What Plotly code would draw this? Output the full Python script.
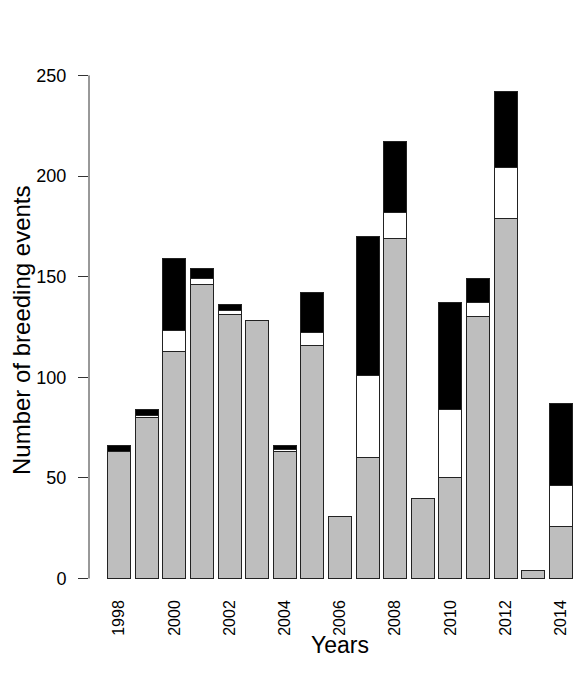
import plotly.graph_objects as go

years = list(range(1998, 2015))
gray_vals = [63, 80, 113, 146, 131, 128, 63, 116, 31, 60, 169, 40, 50, 130, 179, 4, 26]
white_vals = [0, 1, 10, 3, 2, 0, 1, 6, 0, 41, 13, 0, 34, 7, 25, 0, 20]
black_vals = [3, 3, 36, 5, 3, 0, 2, 20, 0, 69, 35, 0, 53, 12, 38, 0, 41]
tick_years = [1998, 2000, 2002, 2004, 2006, 2008, 2010, 2012, 2014]
y_ticks = [0, 50, 100, 150, 200, 250]

W, H = 581, 688
ml, mr, mt, mb = 89, 0, 72, 90

fig = go.Figure()
for vals, col in [(gray_vals, "#BEBEBE"), (white_vals, "#FFFFFF"), (black_vals, "#000000")]:
    fig.add_trace(go.Bar(x=years, y=vals, marker=dict(color=col, line=dict(color="#222222", width=1)),
                         showlegend=False, hoverinfo="skip"))

fig.update_layout(
    width=W, height=H,
    margin=dict(l=ml, r=mr, t=mt, b=mb, pad=0),
    barmode="stack", bargap=0.1667,
    plot_bgcolor="white", paper_bgcolor="white",
    font=dict(family="Liberation Sans, Arial, sans-serif", color="#000000"),
    xaxis=dict(range=[1996.906, 2014.732], tickvals=tick_years, ticktext=[str(y) for y in tick_years],
               tickangle=-90, tickfont=dict(size=16), showgrid=False, zeroline=False, showline=False,
               ticks="", ticklabelstandoff=-2),
    yaxis=dict(range=[-9.68, 251.68], tickvals=y_ticks, tickfont=dict(size=18), showgrid=False,
               zeroline=False, showline=False, ticks="outside", ticklen=10, tickcolor="#333333",
               tickwidth=1, ticklabelstandoff=8),
)

fig.add_shape(type="line", xref="paper", yref="y", x0=0, x1=0, y0=0, y1=250,
              line=dict(color="#333333", width=1))

plot_w = W - ml - mr
fig.add_annotation(text="Years", xref="paper", yref="paper", x=(340 - ml) / plot_w,
                   y=-(645 - (H - mb)) / (H - mt - mb), showarrow=False, font=dict(size=23),
                   xanchor="center", yanchor="middle")
fig.add_annotation(text="Number of breeding events", xref="paper", yref="paper",
                   x=-(ml - 21) / plot_w, y=((H - mb) - 330) / (H - mt - mb), textangle=-90,
                   showarrow=False, font=dict(size=24), xanchor="center", yanchor="middle")

fig.write_html("out.html")
